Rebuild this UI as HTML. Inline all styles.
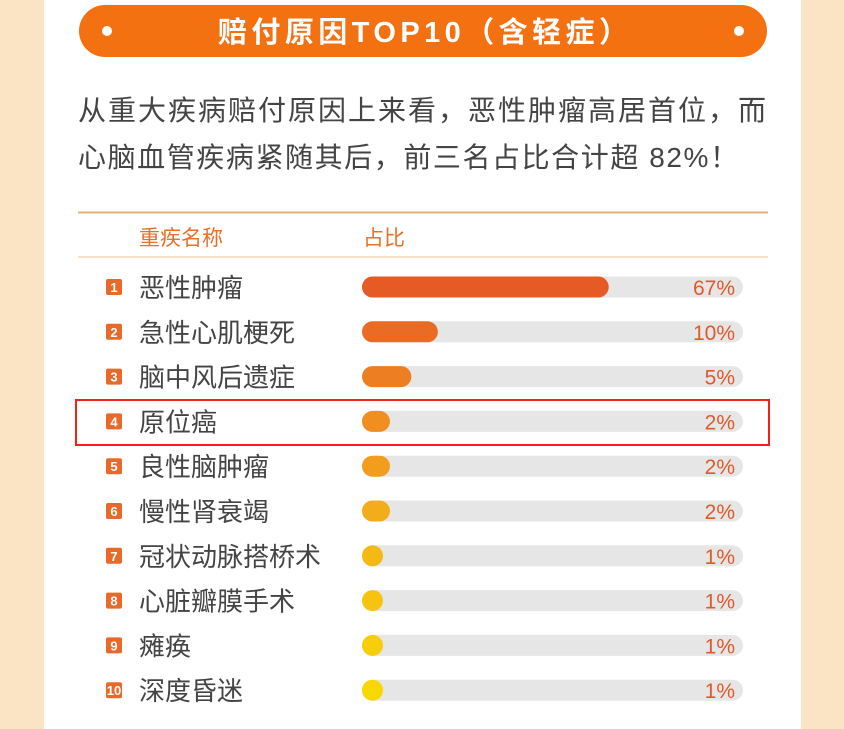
<!DOCTYPE html>
<html><head><meta charset="utf-8"><style>
body{margin:0;width:844px;height:729px;overflow:hidden;background:#fbe4c4;font-family:"Liberation Sans","Noto Sans CJK SC",sans-serif}
</style></head><body>
<svg width="844" height="729" style="position:absolute;left:0;top:0;font-family:'Liberation Sans','Noto Sans CJK SC',sans-serif">
<rect x="44" y="0" width="757" height="729" fill="#ffffff"/>
<rect x="79" y="5" width="688" height="52" rx="26" fill="#f47112"/>
<circle cx="107" cy="31" r="5" fill="#fff"/><circle cx="739" cy="31" r="5" fill="#fff"/>
<text x="423" y="42" text-anchor="middle" font-size="29" font-weight="bold" fill="#fff" textLength="410">赔付原因TOP10（含轻症）</text>
<text x="78" y="120" font-size="28" fill="#444" textLength="688">从重大疾病赔付原因上来看，恶性肿瘤高居首位，而</text>
<text x="78" y="167" font-size="28" fill="#444" textLength="660">心脑血管疾病紧随其后，前三名占比合计超 82%！</text>
<line x1="78" y1="212.5" x2="768" y2="212.5" stroke="#e6b07a" stroke-width="2"/>
<line x1="78" y1="257" x2="768" y2="257" stroke="#f3d6b6" stroke-width="1.5"/>
<text x="139" y="245" font-size="21" fill="#e9702a">重疾名称</text>
<text x="363" y="245" font-size="21" fill="#e9702a">占比</text>
<rect x="76" y="400" width="693" height="45" fill="none" stroke="#f5201a" stroke-width="2"/>
<g id="rows"></g>
</svg>
<script>
const categories=["恶性肿瘤","急性心肌梗死","脑中风后遗症","原位癌","良性脑肿瘤","慢性肾衰竭","冠状动脉搭桥术","心脏瓣膜手术","瘫痪","深度昏迷"];
const values=[67,10,5,2,2,2,1,1,1,1];
const labels=["67%","10%","5%","2%","2%","2%","1%","1%","1%","1%"];
const colors=["#e65a25","#ea6b24","#ee7e22","#f08f20","#f29e1c","#f3ad1a","#f4b914","#f6c410","#f7ce0a","#f8d800"];
const NS="http://www.w3.org/2000/svg";
const g=document.getElementById('rows');
const x0=362,trackW=381,barH=21;
function yPos(i){return 287+i*44.8;}
function wScale(v){return Math.max(barH,18.2*Math.pow(v,0.62));}
function mk(t,a){const e=document.createElementNS(NS,t);for(const k in a)e.setAttribute(k,a[k]);g.appendChild(e);return e;}
categories.forEach((c,i)=>{
 const y=yPos(i);
 const b=mk('rect',{x:106,y:y-8,width:16,height:16,rx:2,fill:'#e8692a'});
 
 
 const bt=mk('text',{x:114,y:y+5,'text-anchor':'middle','font-size':13,'font-weight':'bold',fill:'#fff'});bt.textContent=String(i+1);
 
 
 const t=mk('text',{x:139,y:y+10,'font-size':26,fill:'#444'});t.textContent=c;
 
 
 const tr=mk('rect',{x:x0,y:y-barH/2,width:trackW,height:barH,rx:barH/2,fill:'#e6e6e6'});
 
 
 const br=mk('rect',{x:x0,y:y-barH/2,width:wScale(values[i]),height:barH,rx:barH/2,fill:colors[i]});
 
 
 const v=mk('text',{x:735,y:y+8,'text-anchor':'end','font-size':21,fill:'#e0592a'});v.textContent=labels[i];
 
 
});
</script>
</body></html>
